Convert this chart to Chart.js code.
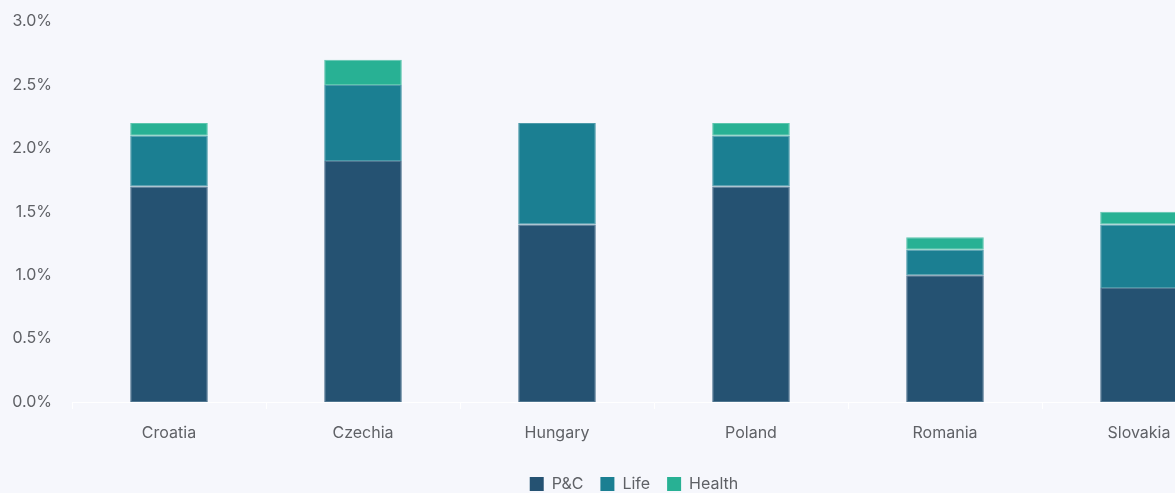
<!DOCTYPE html>
<html>
<head>
<meta charset="utf-8">
<script src="https://cdn.jsdelivr.net/npm/chart.js@4/dist/chart.umd.min.js"></script>
<style>
  html, body { margin: 0; padding: 0; background: #f6f7fc; }
  #wrap { width: 1175px; height: 493px; overflow: hidden; position: relative; }
  #box { width: 1270px; height: 502px; position: absolute; left: 0; top: 0; }
</style>
</head>
<body>
<div id="wrap"><div id="box"><canvas id="chartShare"></canvas></div></div>
<script>
  // Données (part en % du PIB)
  var countries = ['Croatia', 'Czechia', 'Hungary', 'Poland', 'Romania', 'Slovakia'];
  var pcValues = [1.7, 1.9, 1.4, 1.7, 1.0, 0.9];
  var lifeValues = [0.4, 0.6, 0.8, 0.4, 0.2, 0.5];
  var healthValues = [0.1, 0.2, 0, 0.1, 0.1, 0.1];
  var yTicks = [0, 0.5, 1.0, 1.5, 2.0, 2.5, 3.0];

  var palette = {
    pc: '#255272',
    pcEdge: '#4f7590',
    life: '#1b7f92',
    lifeEdge: '#4c9aa9',
    health: '#28b194',
    healthEdge: '#5cc6ad',
    text: '#5f6166'
  };

  Chart.defaults.font.family = "Inter, 'Open Sans', sans-serif";
  Chart.defaults.font.size = 16;
  Chart.defaults.color = palette.text;

  function serie(label, data, color, edge) {
    return {
      label: label,
      data: data,
      backgroundColor: color,
      borderColor: edge,
      borderWidth: 1,
      borderSkipped: false,
      categoryPercentage: 0.8,
      barPercentage: 0.5
    };
  }

  // décale la légende pour la centrer sur toute la largeur du canvas
  var shiftLegend = {
    id: 'shiftLegend',
    afterLayout: function (chart) {
      if (!chart.legend) return;
      chart.legend.left += 16;
      chart.legend.right += 16;
    }
  };

  new Chart(document.getElementById('chartShare'), {
    type: 'bar',
    data: {
      labels: countries,
      datasets: [
        serie('P&C', pcValues, palette.pc, palette.pcEdge),
        serie('Life', lifeValues, palette.life, palette.lifeEdge),
        serie('Health', healthValues, palette.health, palette.healthEdge)
      ]
    },
    plugins: [shiftLegend],
    options: {
      responsive: true,
      maintainAspectRatio: false,
      animation: false,
      layout: { padding: { top: 14, right: 34, left: 0, bottom: 0 } },
      plugins: {
        tooltip: { enabled: false },
        legend: {
          position: 'bottom',
          labels: {
            boxWidth: 14, boxHeight: 14, padding: 17, color: palette.text, font: { size: 16 },
            generateLabels: function (chart) {
              return Chart.defaults.plugins.legend.labels.generateLabels(chart).map(function (l) {
                l.strokeStyle = l.fillStyle;
                l.lineWidth = 0;
                return l;
              });
            }
          }
        }
      },
      scales: {
        x: {
          stacked: true,
          border: { display: true, color: '#ffffff', width: 1 },
          grid: { display: true, drawOnChartArea: false, drawTicks: true, tickLength: 7, color: '#ffffff' },
          ticks: { padding: 15, color: palette.text },
          afterFit: function (scale) { scale.height = 57; }
        },
        y: {
          stacked: true,
          min: 0,
          max: 3,
          border: { display: false },
          grid: { display: false },
          afterBuildTicks: function (scale) {
            scale.ticks = yTicks.map(function (v) { return { value: v }; });
          },
          ticks: {
            padding: 12,
            color: palette.text,
            callback: function (v) { return Number(v).toFixed(1) + '%'; }
          },
          afterFit: function (scale) { scale.width = 72; }
        }
      }
    }
  });
</script>
</body>
</html>
